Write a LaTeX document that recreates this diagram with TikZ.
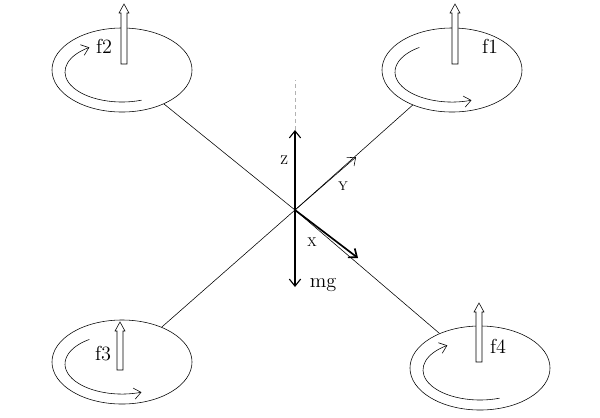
\documentclass[tikz,border=0pt]{standalone}
\usetikzlibrary{shapes.geometric,arrows.meta}
\newcommand\liftarrow[3]{% x, y bottom, y top
  \draw[fill=white] (#1-3,#2) -- (#1-3,#3+9) -- (#1-5,#3+9) -- (#1,#3) -- (#1+5,#3+9) -- (#1+3,#3+9) -- (#1+3,#2) -- cycle;}
\begin{document}
\begin{tikzpicture}[x=0.025cm,y=-0.025cm,>={Straight Barb[length=5pt,width=8pt]},rotor/.style={ellipse,draw,minimum width=3.5cm,minimum height=2.1cm,inner sep=0pt},spin/.style={->,thin},axis/.style={->,thick}]
\useasboundingbox (0,0) rectangle (600,417);
\coordinate (O) at (295,210);
\node[rotor] (r2) at (122,70) {};
\node[rotor] (r1) at (452,70) {};
\node[rotor] (r3) at (122,362) {};
\node[rotor] (r4) at (480,368) {};
\draw (O) -- (r2); \draw (O) -- (r1); \draw (O) -- (r3); \draw (O) -- (r4);
% rotation directions
\draw[spin] (122,72) ++(70:57 and 30) arc[start angle=70,end angle=235,x radius=57,y radius=30];
\draw[spin] (452,72) ++(-125:57 and 30) arc[start angle=-125,end angle=-290,x radius=57,y radius=30];
\draw[spin] (122,364) ++(-125:57 and 30) arc[start angle=-125,end angle=-290,x radius=57,y radius=30];
\draw[spin] (480,370) ++(70:57 and 30) arc[start angle=70,end angle=235,x radius=57,y radius=30];
% lift forces
\liftarrow{124}{64}{4}
\liftarrow{455}{64}{4}
\liftarrow{120}{370}{322}
\liftarrow{479}{362}{303}
\node[font=\Large] (f2) at (104,46) {f2};
\node[font=\Large] (f1) at (490,46) {f1};
\node[font=\Large] (f3) at (103,354) {f3};
\node[font=\Large] (f4) at (498,346) {f4};
% body axes
\draw[densely dashed,gray!60] (O) ++(0,-80) coordinate (zt) -- ++(0,-50);
\coordinate (zh) at (295,130);
\coordinate (gh) at (295,287);
\coordinate (yh) at (356,157);
\coordinate (xh) at (358,258);
\draw[axis] (O) -- (zh);
\draw[axis] (O) -- (gh);
\draw[->] (O) -- (yh);
\draw[->,very thick] (O) -- (xh);
\node[font=\small] (lz) at (284,160) {Z};
\node[font=\small] (ly) at (343,186) {Y};
\node[font=\small] (lx) at (312,242) {X};
\node[font=\Large] (lg) at (323,285) {mg};
\end{tikzpicture}
\end{document}
